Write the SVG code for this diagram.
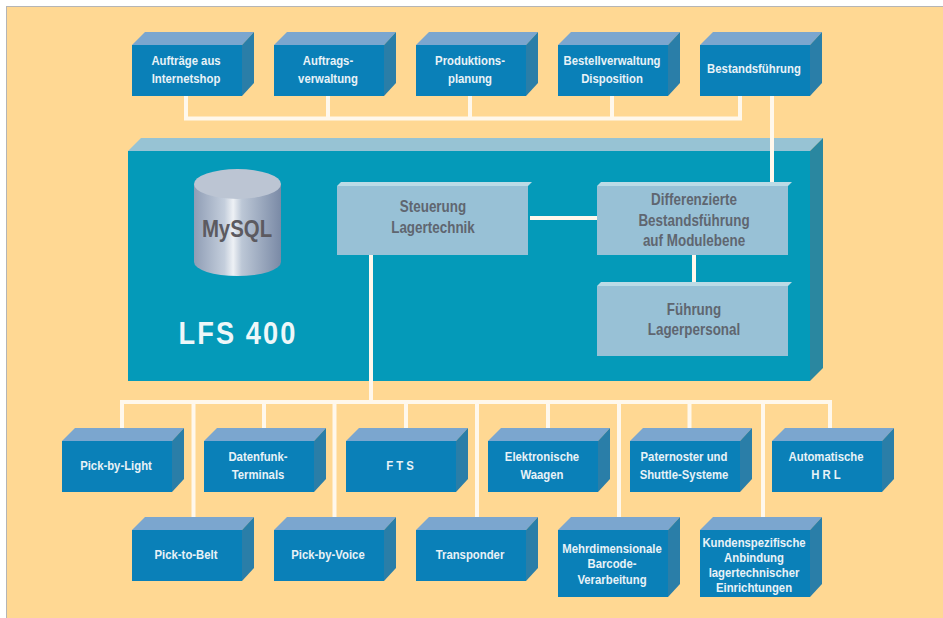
<svg xmlns="http://www.w3.org/2000/svg" width="943" height="618" viewBox="0 0 943 618">
<style>
.f{fill:#0a80b8}.t{fill:#7ba6cf}.s{fill:#2a7ea8}
text{font-family:"Liberation Sans",Arial,sans-serif;font-weight:700;text-anchor:middle}
.n text{fill:#e8f2f7;font-size:13.500px}
.i text{fill:#5f6670;font-size:16px}
.c{fill:none;stroke:#fff8ec;stroke-width:4}
.inner{fill:#98c1d6}.bev{fill:#bcdbe6}
</style>
<defs>
<linearGradient id="cyl" x1="0" x2="1" y1="0" y2="0">
<stop offset="0" stop-color="#8f9db5"/><stop offset=".35" stop-color="#c4cedc"/><stop offset=".45" stop-color="#eef1f5"/><stop offset=".55" stop-color="#bcc7d6"/><stop offset="1" stop-color="#7a8aa6"/>
</linearGradient>
<g id="box"><rect class="f" x="0" y="13" width="110" height="51"/><path class="t" d="M0 13L13 0H122L110 13Z"/><path class="s" d="M110 13L122 0V51L110 64Z"/></g>
<g id="tall"><rect class="f" x="0" y="13" width="110" height="67"/><path class="t" d="M0 13L13 0H122L110 13Z"/><path class="s" d="M110 13L122 0V67L110 80Z"/></g>
</defs>
<rect width="943" height="618" fill="#fff"/>
<rect x="6" y="6" width="937" height="612" fill="#b5b5b5"/>
<rect x="7" y="7" width="936" height="611" fill="#ffd893"/>
<g id="lfs400">
<rect x="128" y="151" width="682" height="230" fill="#049ab9"/>
<path d="M128 151L141 138H823L810 151Z" fill="#97c3d4"/>
<path d="M810 151L823 138V368L810 381Z" fill="#2a87a0"/>
<text transform="translate(238 344) scale(.85 1)" font-size="32" fill="#eef7f9" letter-spacing="2.500">LFS 400</text>
</g>
<g id="mysql">
<path d="M194 184V262A43.500 14 0 0 0 281 262V184Z" fill="url(#cyl)"/>
<ellipse cx="237.500" cy="184" rx="43.500" ry="15" fill="#bcc5d3"/>
<text transform="translate(237 237) scale(.85 1)" font-size="24" fill="#5c5a60">MySQL</text>
</g>
<g id="connectors">
<path class="c" d="M186 96V118.500H740V96M328 96V118.500M470 96V118.500M612 96V118.500M772 96V183"/>
<path class="c" d="M530 218H598M694 255V282"/>
<path class="c" d="M371 255V402M122 433V402H830V433M193.500 402V522M264 402V433M334.500 402V522M406 402V433M477 402V522M548 402V433M619 402V522M689.500 402V433M763 402V522"/>
</g>
<g id="steuerung" class="i"><path class="bev" d="M337 186L341 182H532L528 186Z"/><rect class="inner" x="337" y="186" width="191" height="69"/><text transform="translate(433 212) scale(.84 1)">Steuerung</text><text transform="translate(433 233) scale(.84 1)">Lagertechnik</text></g>
<g id="differenzierte" class="i"><path class="bev" d="M597 186L601 182H792L788 186Z"/><rect class="inner" x="597" y="186" width="191" height="69"/><text transform="translate(694 205) scale(.84 1)">Differenzierte</text><text transform="translate(694 226) scale(.84 1)">Bestandsführung</text><text transform="translate(694 246) scale(.84 1)">auf Modulebene</text></g>
<g id="fuehrung" class="i"><path class="bev" d="M597 286L601 282H792L788 286Z"/><rect class="inner" x="597" y="286" width="191" height="70"/><text transform="translate(694 315) scale(.84 1)">Führung</text><text transform="translate(694 335) scale(.84 1)">Lagerpersonal</text></g>

<g id="n1" class="n"><use href="#box" x="132" y="32"/><text transform="translate(186 65) scale(.84 1)">Aufträge aus</text><text transform="translate(186 83) scale(.84 1)">Internetshop</text></g>
<g id="n2" class="n"><use href="#box" x="274" y="32"/><text transform="translate(328 65) scale(.84 1)">Auftrags-</text><text transform="translate(328 83) scale(.84 1)">verwaltung</text></g>
<g id="n3" class="n"><use href="#box" x="416" y="32"/><text transform="translate(470 65) scale(.84 1)">Produktions-</text><text transform="translate(470 83) scale(.84 1)">planung</text></g>
<g id="n4" class="n"><use href="#box" x="558" y="32"/><text transform="translate(612 65) scale(.84 1)">Bestellverwaltung</text><text transform="translate(612 83) scale(.84 1)">Disposition</text></g>
<g id="n5" class="n"><use href="#box" x="700" y="32"/><text transform="translate(754 73) scale(.84 1)">Bestandsführung</text></g>

<g id="b1" class="n"><use href="#box" x="62" y="428"/><text transform="translate(116 470) scale(.84 1)">Pick-by-Light</text></g>
<g id="b2" class="n"><use href="#box" x="204" y="428"/><text transform="translate(258 461) scale(.84 1)">Datenfunk-</text><text transform="translate(258 479) scale(.84 1)">Terminals</text></g>
<g id="b3" class="n"><use href="#box" x="346" y="428"/><text transform="translate(400 470) scale(.84 1)">F T S</text></g>
<g id="b4" class="n"><use href="#box" x="488" y="428"/><text transform="translate(542 461) scale(.84 1)">Elektronische</text><text transform="translate(542 479) scale(.84 1)">Waagen</text></g>
<g id="b5" class="n"><use href="#box" x="630" y="428"/><text transform="translate(684 461) scale(.84 1)">Paternoster und</text><text transform="translate(684 479) scale(.84 1)">Shuttle-Systeme</text></g>
<g id="b6" class="n"><use href="#box" x="772" y="428"/><text transform="translate(826 461) scale(.84 1)">Automatische</text><text transform="translate(826 479) scale(.84 1)">H R L</text></g>

<g id="c1" class="n"><use href="#box" x="132" y="517"/><text transform="translate(186 559) scale(.84 1)">Pick-to-Belt</text></g>
<g id="c2" class="n"><use href="#box" x="274" y="517"/><text transform="translate(328 559) scale(.84 1)">Pick-by-Voice</text></g>
<g id="c3" class="n"><use href="#box" x="416" y="517"/><text transform="translate(470 559) scale(.84 1)">Transponder</text></g>
<g id="c4" class="n"><use href="#tall" x="558" y="517"/><text transform="translate(612 553) scale(.84 1)">Mehrdimensionale</text><text transform="translate(612 568) scale(.84 1)">Barcode-</text><text transform="translate(612 584) scale(.84 1)">Verarbeitung</text></g>
<g id="c5" class="n"><use href="#tall" x="700" y="517"/><text transform="translate(754 547) scale(.84 1)">Kundenspezifische</text><text transform="translate(754 562) scale(.84 1)">Anbindung</text><text transform="translate(754 577) scale(.84 1)">lagertechnischer</text><text transform="translate(754 592) scale(.84 1)">Einrichtungen</text></g>
</svg>
